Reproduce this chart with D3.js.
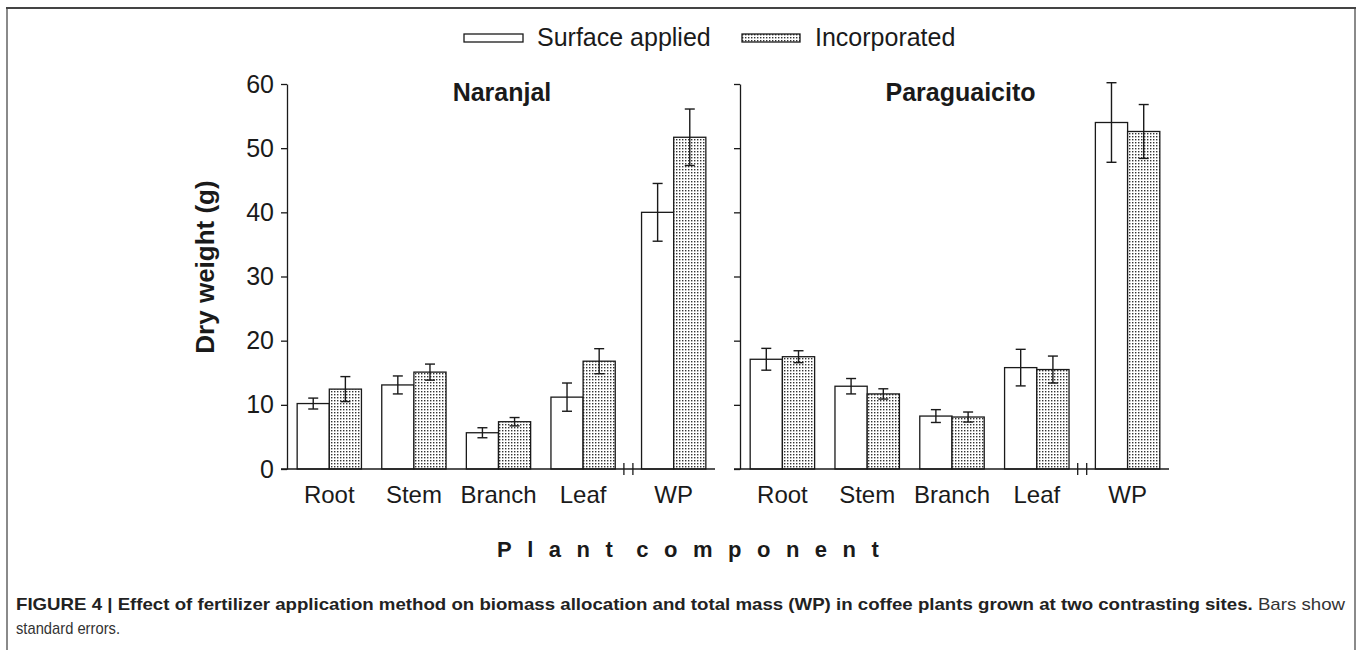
<!DOCTYPE html>
<html>
<head>
<meta charset="utf-8">
<script src="https://cdn.jsdelivr.net/npm/d3@7"></script>
<style>
  html, body { margin: 0; padding: 0; background: #fff; }
  svg { display: block; font-family: "Liberation Sans", Arial, sans-serif; }
</style>
</head>
<body>
<svg id="chart" width="1358" height="650"></svg>
<script>
const categories = ["Root", "Stem", "Branch", "Leaf", "WP"];
const sites = ["Naranjal", "Paraguaicito"];
const seriesNames = ["Surface applied", "Incorporated"];
const naranjalSurface = [10.2, 13.1, 5.65, 11.2, 40.0];
const naranjalSurfaceSE = [0.85, 1.4, 0.78, 2.2, 4.5];
const naranjalIncorp = [12.45, 15.1, 7.37, 16.8, 51.7];
const naranjalIncorpSE = [1.95, 1.25, 0.65, 1.95, 4.4];
const paraSurface = [17.1, 12.9, 8.25, 15.8, 54.0];
const paraSurfaceSE = [1.7, 1.2, 1.0, 2.85, 6.2];
const paraIncorp = [17.5, 11.7, 8.1, 15.5, 52.6];
const paraIncorpSE = [0.93, 0.8, 0.78, 2.1, 4.2];
const yTicks = [0, 10, 20, 30, 40, 50, 60];
const yTitle = "Dry weight (g)";
const xTitleWords = ["Plant", "component"];
const captionBold = "FIGURE 4 | Effect of fertilizer application method on biomass allocation and total mass (WP) in coffee plants grown at two contrasting sites.";
const captionRest = " Bars show";
const captionLine2 = "standard errors.";

const svg = d3.select("#chart");
const ink = "#1a1a1a";

// pattern for incorporated
const defs = svg.append("defs");
const pat = defs.append("pattern").attr("id", "dots").attr("patternUnits", "userSpaceOnUse")
  .attr("width", 3).attr("height", 3);
pat.append("rect").attr("width", 3).attr("height", 3).attr("fill", "#fff");
pat.append("rect").attr("x", 1).attr("y", 1).attr("width", 1.4).attr("height", 1.4).attr("fill", "#333");

// frame
svg.append("line").attr("x1", 7).attr("x2", 7).attr("y1", 8).attr("y2", 650).attr("stroke", "#8a8a8a").attr("stroke-width", 2);
svg.append("line").attr("x1", 1355).attr("x2", 1355).attr("y1", 8).attr("y2", 650).attr("stroke", "#8a8a8a").attr("stroke-width", 2);
svg.append("line").attr("x1", 6).attr("x2", 1356).attr("y1", 8).attr("y2", 8).attr("stroke", "#444").attr("stroke-width", 2);

const y = d3.scaleLinear().domain([0, 60]).range([469, 84]);

const panels = [
  { name: sites[0], x0: 287, x1: 715, s: naranjalSurface, sse: naranjalSurfaceSE, inc: naranjalIncorp, ise: naranjalIncorpSE, labels: true },
  { name: sites[1], x0: 740, x1: 1169, s: paraSurface, sse: paraSurfaceSE, inc: paraIncorp, ise: paraIncorpSE, labels: false }
];
const wpShift = 6;

panels.forEach(p => {
  const g = svg.append("g");
  const x = d3.scaleBand().domain(categories).range([p.x0, p.x1 - 5]).paddingInner(0.24).paddingOuter(0.12);
  const xs = d3.scaleBand().domain(seriesNames).range([0, x.bandwidth()]);
  const pos = c => x(c) + (c === "WP" ? wpShift : 0);

  const data = [];
  categories.forEach((c, i) => {
    data.push({ c, ser: seriesNames[0], v: p.s[i], se: p.sse[i] });
    data.push({ c, ser: seriesNames[1], v: p.inc[i], se: p.ise[i] });
  });

  g.selectAll("rect.bar").data(data).enter().append("rect")
    .attr("x", d => pos(d.c) + xs(d.ser))
    .attr("y", d => y(d.v))
    .attr("width", xs.bandwidth())
    .attr("height", d => y(0) - y(d.v))
    .attr("fill", d => d.ser === seriesNames[0] ? "#fff" : "url(#dots)")
    .attr("stroke", ink).attr("stroke-width", 1.3);

  // error bars
  const eb = g.selectAll("g.eb").data(data).enter().append("g")
    .attr("stroke", ink).attr("stroke-width", 1.4);
  eb.append("line")
    .attr("x1", d => pos(d.c) + xs(d.ser) + xs.bandwidth() / 2)
    .attr("x2", d => pos(d.c) + xs(d.ser) + xs.bandwidth() / 2)
    .attr("y1", d => y(d.v + d.se)).attr("y2", d => y(d.v - d.se));
  [1, -1].forEach(sg => {
    eb.append("line")
      .attr("x1", d => pos(d.c) + xs(d.ser) + xs.bandwidth() / 2 - 5)
      .attr("x2", d => pos(d.c) + xs(d.ser) + xs.bandwidth() / 2 + 5)
      .attr("y1", d => y(d.v + sg * d.se)).attr("y2", d => y(d.v + sg * d.se));
  });

  // y axis
  const yAxis = d3.axisLeft(y).tickValues(yTicks).tickSize(6).tickSizeOuter(0)
    .tickFormat(p.labels ? d3.format("d") : () => "");
  const ya = g.append("g").attr("transform", `translate(${p.x0},0)`).call(yAxis);
  ya.select(".domain").attr("stroke", ink).attr("stroke-width", 1.3);
  ya.selectAll(".tick line").attr("stroke", ink).attr("stroke-width", 1.3);
  ya.selectAll(".tick text").attr("font-size", 25).attr("fill", ink).attr("x", -13)
    .attr("font-family", "Liberation Sans, Arial, sans-serif");

  // x baseline
  g.append("line").attr("x1", p.x0 - 6).attr("x2", p.x1).attr("y1", y(0)).attr("y2", y(0))
    .attr("stroke", ink).attr("stroke-width", 1.3);
  // break marks
  const leafEnd = pos("Leaf") + x.bandwidth();
  const wpStart = pos("WP");
  const mid = (leafEnd + wpStart) / 2;
  [-4.5, 4.5].forEach(dx => {
    g.append("line").attr("x1", mid + dx).attr("x2", mid + dx).attr("y1", y(0) - 6).attr("y2", y(0) + 6)
      .attr("stroke", ink).attr("stroke-width", 1.3);
  });

  // category labels
  g.selectAll("text.cat").data(categories).enter().append("text")
    .attr("x", c => pos(c) + x.bandwidth() / 2)
    .attr("y", 503).attr("text-anchor", "middle").attr("font-size", 24).attr("fill", ink)
    .text(c => c);

  // panel title
  g.append("text").attr("x", (p.x0 + p.x1) / 2 + (p.labels ? 1 : 6)).attr("y", 101)
    .attr("text-anchor", "middle").attr("font-size", 25).attr("font-weight", "bold").attr("fill", ink)
    .text(p.name);
});

// y title
svg.append("text").attr("transform", "translate(214,267) rotate(-90)")
  .attr("text-anchor", "middle").attr("font-size", 26).attr("font-weight", "bold").attr("fill", ink)
  .text(yTitle);

// x title
const xt = svg.append("text").attr("x", 497).attr("y", 557)
  .attr("font-size", 22).attr("font-weight", "bold").attr("fill", ink)
  .attr("letter-spacing", 15.5);
xt.append("tspan").text(xTitleWords[0]);
xt.append("tspan").attr("dx", 8).text(xTitleWords[1]);

// legend
const leg = svg.append("g");
leg.append("rect").attr("x", 464).attr("y", 34).attr("width", 59).attr("height", 8)
  .attr("fill", "#fff").attr("stroke", ink).attr("stroke-width", 1.3);
leg.append("text").attr("x", 537).attr("y", 46).attr("font-size", 25).attr("fill", ink).text(seriesNames[0]);
leg.append("rect").attr("x", 742).attr("y", 34).attr("width", 58).attr("height", 8)
  .attr("fill", "url(#dots)").attr("stroke", ink).attr("stroke-width", 1.3);
leg.append("text").attr("x", 815).attr("y", 46).attr("font-size", 25).attr("fill", ink).text(seriesNames[1]);

// caption
const cap = svg.append("text").attr("x", 16).attr("y", 610).attr("font-size", 17).attr("fill", "#222")
  .attr("textLength", 1329).attr("lengthAdjust", "spacingAndGlyphs");
cap.append("tspan").attr("font-weight", "bold").text(captionBold);
cap.append("tspan").attr("fill", "#333").text(captionRest);
svg.append("text").attr("x", 16).attr("y", 634).attr("font-size", 17).attr("fill", "#333")
  .attr("textLength", 104).attr("lengthAdjust", "spacingAndGlyphs").text(captionLine2);
</script>
</body>
</html>
